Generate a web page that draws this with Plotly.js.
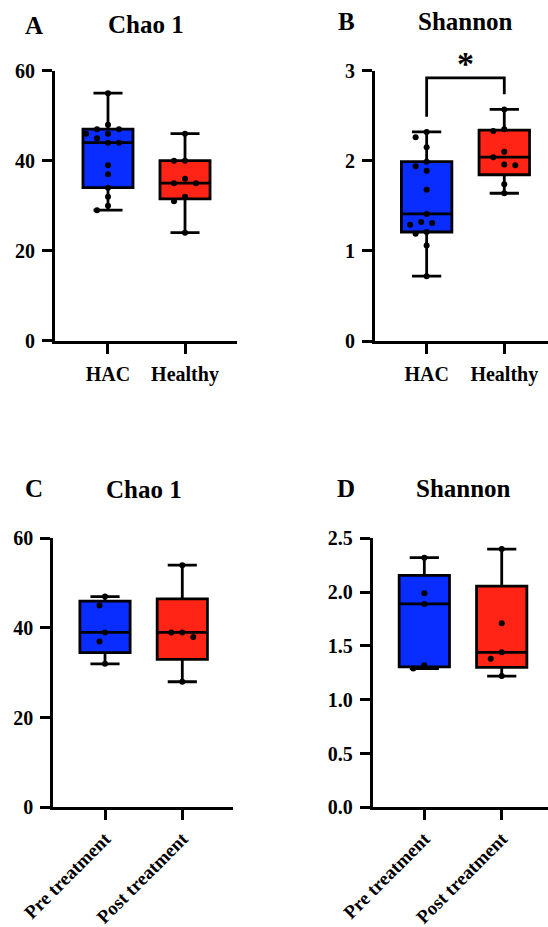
<!DOCTYPE html>
<html>
<head>
<meta charset="utf-8">
<script src="https://cdn.plot.ly/plotly-3.0.1.min.js"></script>
<style>html,body{margin:0;padding:0;background:#fff;}#chart{width:548px;height:927px;}</style>
</head>
<body>
<div id="chart"></div>
<script>
// ---- data ----
const groupsTop = ["HAC", "Healthy"];
const groupsBottom = ["Pre treatment", "Post treatment"];

const chaoHAC = [55, 48, 47, 47, 46, 46, 45, 44, 44, 39, 37, 34, 32, 30, 29];
const chaoHealthy = [46, 40, 40, 36, 35, 35, 32, 31, 24];

const shannonHAC = [2.32, 2.26, 2.15, 1.99, 1.94, 1.89, 1.68, 1.41, 1.32, 1.31, 1.29, 1.21, 1.19, 1.06, 0.72];
const shannonHealthy = [2.57, 2.35, 2.33, 2.10, 2.04, 1.96, 1.95, 1.74, 1.64];

const chaoPre = [47, 45, 39, 37, 32];
const chaoPost = [54, 39, 39, 38, 28];

const shannonPre = [2.32, 1.99, 1.89, 1.32, 1.29];
const shannonPost = [2.40, 1.71, 1.44, 1.38, 1.22];

const sigBracket = {left: 2.49, top: 2.92, right: 2.74, label: "*"};

const chaoTicks = [0, 20, 40, 60];
const shannonTicksB = [0, 1, 2, 3];
const shannonTicksD = [0, 0.5, 1.0, 1.5, 2.0, 2.5];

// ---- layout geometry ----
const W = 548, H = 927;
const BLUE = "#0a2dff", RED = "#ff2416";
const FONT = "Liberation Serif, Times New Roman, serif";

const panels = {
  A: {px: [55, 237], py: [70.7, 340.7], xr: [-0.688, 1.675], yr: [0, 60]},
  B: {px: [375, 548], py: [70.7, 341], xr: [-0.665, 1.563], yr: [0, 3]},
  C: {px: [53.3, 233], py: [538.3, 807.3], xr: [-0.669, 1.656], yr: [0, 60]},
  D: {px: [372.7, 548], py: [538.3, 807.3], xr: [-0.667, 1.598], yr: [0, 2.5]}
};

function xDom(p) { return [p.px[0] / W, p.px[1] / W]; }
function yDom(p) { return [1 - p.py[1] / H, 1 - p.py[0] / H]; }

// beeswarm offsets computed from the data and the axis scales
function swarm(vals, center, p) {
  const pxu = (p.px[1] - p.px[0]) / (p.xr[1] - p.xr[0]);
  const pyu = (p.py[1] - p.py[0]) / (p.yr[1] - p.yr[0]);
  const step = 5.5, D = 9;
  const cands = [0];
  for (let k = 1; k <= 8; k++) cands.push(-k * step, k * step);
  const order = vals.map((v, i) => i).sort((a, b) => vals[b] - vals[a]);
  const placed = [];
  const xs = new Array(vals.length);
  for (const i of order) {
    const y = vals[i] * pyu;
    for (const c of cands) {
      if (placed.every(q => Math.hypot(q.x - c, q.y - y) >= D)) {
        placed.push({x: c, y: y});
        xs[i] = center + c / pxu;
        break;
      }
    }
  }
  return xs;
}

const traces = [];
function addGroup(vals, pos, color, key, n) {
  const xa = n === 1 ? "x" : "x" + n;
  const ya = n === 1 ? "y" : "y" + n;
  traces.push({
    type: "box", y: vals, x0: pos, width: 0.65, whiskerwidth: 0.58,
    quartilemethod: "exclusive", boxpoints: false,
    fillcolor: color, line: {color: "#000", width: 2.8},
    xaxis: xa, yaxis: ya, hoverinfo: "skip"
  });
  traces.push({
    type: "scatter", mode: "markers", y: vals, x: swarm(vals, pos, panels[key]),
    marker: {color: "#000", size: 6},
    xaxis: xa, yaxis: ya, hoverinfo: "skip", cliponaxis: false
  });
}
addGroup(chaoHAC, 0, BLUE, "A", 1);
addGroup(chaoHealthy, 1, RED, "A", 1);
addGroup(shannonHAC, 0, BLUE, "B", 2);
addGroup(shannonHealthy, 1, RED, "B", 2);
addGroup(chaoPre, 0, BLUE, "C", 3);
addGroup(chaoPost, 1, RED, "C", 3);
addGroup(shannonPre, 0, BLUE, "D", 4);
addGroup(shannonPost, 1, RED, "D", 4);

function tickFont(size) { return {family: FONT, size: size, color: "#000", weight: "bold"}; }
function xAxis(key, labels, angle, anchor) {
  const p = panels[key];
  return {
    domain: xDom(p), range: p.xr, anchor: anchor,
    tickmode: "array", tickvals: [0, 1], ticktext: labels, tickangle: angle,
    showgrid: false, zeroline: false, showline: true, linecolor: "#000", linewidth: 3,
    ticks: "outside", ticklen: 10, tickwidth: 3, tickcolor: "#000",
    tickfont: tickFont(angle ? 19 : 20), ticklabelstandoff: angle ? 0 : 3, fixedrange: true
  };
}
function yAxis(key, tv, fmt, anchor) {
  const p = panels[key];
  return {
    domain: yDom(p), range: p.yr, anchor: anchor,
    tickmode: "array", tickvals: tv, ticktext: tv.map(v => fmt ? v.toFixed(1) : String(v)),
    showgrid: false, zeroline: false, showline: true, linecolor: "#000", linewidth: 3,
    ticks: "outside", ticklen: 10, tickwidth: 3, tickcolor: "#000",
    tickfont: tickFont(20), ticklabelstandoff: 3, fixedrange: true
  };
}

function label(text, px, py, size) {
  return {text: text, xref: "paper", yref: "paper", x: px / W, y: 1 - py / H,
    xanchor: "center", yanchor: "middle", showarrow: false,
    font: {family: FONT, size: size, color: "#000", weight: "bold"}};
}

const layout = {
  width: W, height: H, margin: {l: 0, r: 0, t: 0, b: 0},
  paper_bgcolor: "#fff", plot_bgcolor: "#fff", showlegend: false,
  xaxis: xAxis("A", groupsTop, 0, "y"),
  yaxis: yAxis("A", chaoTicks, false, "x"),
  xaxis2: xAxis("B", groupsTop, 0, "y2"),
  yaxis2: yAxis("B", shannonTicksB, false, "x2"),
  xaxis3: xAxis("C", groupsBottom, -45, "y3"),
  yaxis3: yAxis("C", chaoTicks, false, "x3"),
  xaxis4: xAxis("D", groupsBottom, -45, "y4"),
  yaxis4: yAxis("D", shannonTicksD, true, "x4"),
  shapes: [{
    type: "path", xref: "x2", yref: "y2",
    path: "M 0," + sigBracket.left + " L 0," + sigBracket.top + " L 1," + sigBracket.top + " L 1," + sigBracket.right,
    line: {color: "#000", width: 2.8}
  }],
  annotations: [
    label("A", 34, 25, 25), label("Chao 1", 145.5, 24.5, 25),
    label("B", 346, 21.5, 25), label("Shannon", 465.5, 22, 25),
    label("C", 34, 489, 25), label("Chao 1", 144, 489.5, 25),
    label("D", 346, 489, 25), label("Shannon", 463.5, 489, 25),
    {text: sigBracket.label, xref: "x2", yref: "y2", x: 0.5, y: sigBracket.top,
     xanchor: "center", yanchor: "bottom", yshift: -6, showarrow: false,
     font: {family: FONT, size: 34, color: "#000", weight: "bold"}}
  ]
};

Plotly.newPlot("chart", traces, layout, {staticPlot: true, displayModeBar: false});
</script>
</body>
</html>
